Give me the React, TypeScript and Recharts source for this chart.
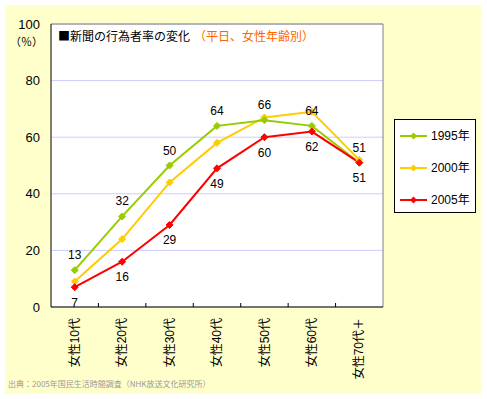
import { CartesianGrid, LabelList, Line, LineChart, ReferenceLine, XAxis, YAxis } from "recharts";

const categories = ["女性10代", "女性20代", "女性30代", "女性40代", "女性50代", "女性60代", "女性70代＋"];
const rate1995 = [13, 32, 50, 64, 66, 64, 51];
const rate2000 = [9, 24, 44, 58, 67, 69, 52];
const rate2005 = [7, 16, 29, 49, 60, 62, 51];
const yTicks = [0, 20, 40, 60, 80, 100];

const series = [
  { key: "y1995", name: "1995年", color: "#99CC00" },
  { key: "y2000", name: "2000年", color: "#FFCC00" },
  { key: "y2005", name: "2005年", color: "#FF0000" },
];

const data = categories.map((c, i) => ({
  x: i + 0.5,
  name: c,
  y1995: rate1995[i],
  y2000: rate2000[i],
  y2005: rate2005[i],
}));

// label ticks sit at category centres, the integer ones are the boundary marks
const xTicks = [0.5, 1, 1.5, 2, 2.5, 3, 3.5, 4, 4.5, 5, 5.5, 6, 6.5];

const font = "'Liberation Sans', 'Noto Sans CJK JP', sans-serif";
const cjk = "'Noto Sans CJK JP', sans-serif";

function Diamond(props: any) {
  const { cx, cy, stroke } = props;
  if (cx == null || cy == null) return null;
  const r = 3.5;
  return <polygon points={`${cx},${cy - r} ${cx + r},${cy} ${cx},${cy + r} ${cx - r},${cy}`} fill={stroke} stroke={stroke} />;
}

function XTick(props: any) {
  const { x, y, payload } = props;
  const v = payload.value;
  if (Number.isInteger(v)) {
    return <line x1={x} x2={x} y1={y} y2={y - 4} stroke="#000" />;
  }
  const label = categories[Math.floor(v)];
  return (
    <text
      x={0}
      y={0}
      dy="0.35em"
      textAnchor="end"
      fontSize={12}
      fontFamily={font}
      fill="#000"
      transform={`translate(${x},${y + 11}) rotate(-90)`}
    >
      {label}
    </text>
  );
}

function YTick(props: any) {
  const { x, y, payload } = props;
  return (
    <g>
      <text x={x} y={y} dy="0.35em" textAnchor="end" fontSize={13} fontFamily={font} fill="#000">
        {payload.value}
      </text>
      {payload.value === 100 && (
        <text x={x + 3} y={y + 18} dy="0.35em" textAnchor="end" fontSize={11} fontFamily={cjk} fill="#000">
          （％）
        </text>
      )}
    </g>
  );
}

function LegendBox() {
  return (
    <div
      style={{
        position: "absolute",
        left: 394,
        top: 119,
        width: 80,
        height: 92,
        border: "1px solid #000",
        background: "#fff",
        fontFamily: font,
        fontSize: 12,
      }}
    >
      {series.map((s, i) => (
        <div key={s.key} style={{ position: "absolute", left: 5, top: 9 + i * 32, display: "flex", alignItems: "center", lineHeight: "14px" }}>
          <svg width={28} height={10}>
            <line x1={0} x2={27} y1={5} y2={5} stroke={s.color} strokeWidth={2} />
            <polygon points="13.5,1.5 17,5 13.5,8.5 10,5" fill={s.color} />
          </svg>
          <span style={{ marginLeft: 3 }}>{s.name}</span>
        </div>
      ))}
    </div>
  );
}

export default function App() {
  return (
    <div style={{ position: "absolute", left: 0, top: 0, width: 487, height: 399 }}>
      <div style={{ position: "absolute", left: 5, top: 5, width: 476, height: 389, background: "#FFFFCC" }} />
      <div style={{ position: "absolute", left: 0, top: 0 }}>
        <LineChart width={487} height={399} data={data} margin={{ top: 24, right: 104, bottom: 12, left: 11 }}>
          <CartesianGrid vertical={false} stroke="#CCCCFF" fill="#fff" />
          <XAxis
            dataKey="x"
            type="number"
            domain={[0, 7]}
            ticks={xTicks}
            interval={0}
            height={80}
            tickSize={0}
            tickMargin={0}
            tickLine={false}
            tick={<XTick />}
            axisLine={{ stroke: "#000" }}
          />
          <YAxis
            domain={[0, 100]}
            ticks={yTicks}
            width={40}
            tickSize={0}
            tickMargin={11}
            tickLine={false}
            tick={<YTick />}
            axisLine={{ stroke: "#000" }}
          />
          <ReferenceLine y={100} stroke="#808080" />
          <ReferenceLine x={7} stroke="#808080" />
          <Line dataKey="y2000" name="2000年" stroke="#FFCC00" strokeWidth={2} dot={<Diamond />} activeDot={false} isAnimationActive={false} />
          <Line dataKey="y1995" name="1995年" stroke="#99CC00" strokeWidth={2} dot={<Diamond />} activeDot={false} isAnimationActive={false}>
            <LabelList dataKey="y1995" position="top" offset={11} fontSize={12} fontFamily={font} fill="#000" />
          </Line>
          <Line dataKey="y2005" name="2005年" stroke="#FF0000" strokeWidth={2} dot={<Diamond />} activeDot={false} isAnimationActive={false}>
            <LabelList dataKey="y2005" position="bottom" offset={11} fontSize={12} fontFamily={font} fill="#000" />
          </Line>
        </LineChart>
      </div>
      <LegendBox />
      <div style={{ position: "absolute", left: 58, top: 28, fontFamily: cjk, fontSize: 12, whiteSpace: "nowrap", lineHeight: "16px" }}>
        <span style={{ color: "#000" }}>■新聞の行為者率の変化</span>
        <span style={{ color: "#FF6600", marginLeft: 4 }}>（平日、女性年齢別）</span>
      </div>
      <div style={{ position: "absolute", left: 8, top: 378, fontFamily: cjk, fontSize: 8, color: "#999", whiteSpace: "nowrap", lineHeight: "12px" }}>
        出典：2005年国民生活時間調査（NHK放送文化研究所）
      </div>
    </div>
  );
}
